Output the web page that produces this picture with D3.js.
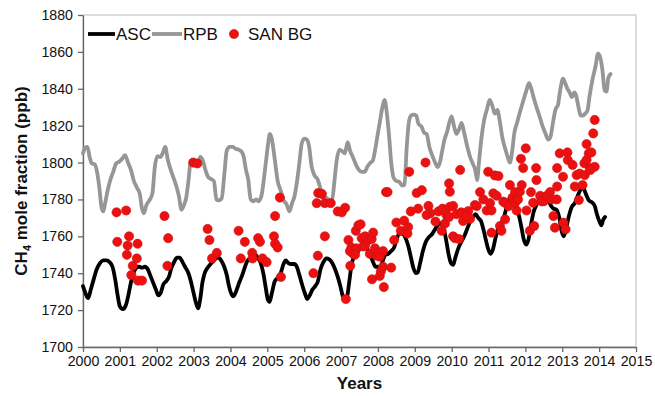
<!DOCTYPE html>
<html>
<head>
<meta charset="utf-8">
<script src="https://cdn.jsdelivr.net/npm/d3@7"></script>
<style>
  html, body { margin: 0; padding: 0; background: #fff; }
  svg { display: block; font-family: "Liberation Sans", Arial, sans-serif; }
</style>
</head>
<body>
<svg id="chart" width="655" height="396"></svg>
<script>
// Axis ranges and tick labels
const xTicks = d3.range(2000, 2016);
const yTicks = d3.range(1700, 1881, 20);

// ASC station record: [decimal year, ppb]
const ascSeries = [
  [2000.0,1733],[2000.07,1729],[2000.14,1726.5],[2000.21,1731],[2000.28,1736],[2000.37,1742],[2000.46,1745.5],[2000.55,1747],[2000.64,1747],[2000.72,1746],[2000.8,1743.5],[2000.87,1737],[2000.94,1728],
  [2001.0,1722],[2001.08,1720.5],[2001.16,1722.5],[2001.23,1728],[2001.3,1735],[2001.37,1740],[2001.45,1743],[2001.52,1743.5],[2001.6,1743],[2001.68,1743.5],[2001.76,1742],[2001.84,1738],[2001.91,1734.5],[2001.98,1731],
  [2002.04,1728],[2002.1,1729],[2002.18,1734],[2002.27,1736],[2002.33,1738],[2002.4,1743],[2002.47,1746],[2002.55,1748.5],[2002.62,1748.5],[2002.7,1746],[2002.78,1743],[2002.86,1740],[2002.92,1736],[2002.98,1731],
  [2003.05,1725],[2003.12,1721],[2003.18,1726],[2003.24,1735],[2003.3,1740],[2003.38,1743],[2003.46,1745],[2003.53,1746.5],[2003.6,1748],[2003.68,1748.5],[2003.76,1746.5],[2003.83,1743.5],[2003.9,1739],[2003.96,1733],
  [2004.02,1729],[2004.08,1727.5],[2004.15,1730],[2004.22,1734],[2004.3,1738],[2004.37,1742],[2004.44,1746],[2004.52,1748],[2004.6,1749.5],[2004.68,1750],[2004.75,1748],[2004.82,1745.5],[2004.89,1740],[2004.95,1733],
  [2005.01,1726],[2005.06,1724.5],[2005.12,1729],[2005.2,1735.5],[2005.28,1737.5],[2005.36,1740],[2005.44,1745],[2005.5,1747],[2005.57,1745.5],[2005.65,1745],[2005.73,1745],[2005.8,1743.5],[2005.87,1739],[2005.94,1734],
  [2006.02,1729],[2006.08,1726],[2006.15,1728],[2006.22,1731],[2006.3,1733],[2006.37,1735.5],[2006.44,1742],[2006.52,1746],[2006.6,1748],[2006.68,1747.5],[2006.76,1745.5],[2006.84,1742],[2006.91,1738],[2006.98,1733],
  [2007.04,1728],[2007.1,1725.5],[2007.16,1727],[2007.22,1735],[2007.28,1744],[2007.34,1748.5],[2007.42,1750.5],[2007.5,1753],[2007.58,1754.5],[2007.65,1755.5],[2007.72,1753],[2007.8,1749.5],[2007.87,1746],[2007.93,1743.5],
  [2008.0,1743.5],[2008.06,1743],[2008.12,1746],[2008.2,1750],[2008.28,1750.5],[2008.36,1752],[2008.44,1754],[2008.5,1758],[2008.58,1761.5],[2008.66,1761.5],[2008.74,1759.5],[2008.82,1755],[2008.89,1749],[2008.96,1743],
  [2009.03,1740],[2009.08,1740.5],[2009.15,1746],[2009.22,1752],[2009.3,1757],[2009.38,1759.5],[2009.46,1761],[2009.54,1763.5],[2009.62,1766],[2009.7,1767],[2009.78,1764.5],[2009.85,1758],[2009.92,1750],[2009.98,1745.5],
  [2010.04,1744.5],[2010.1,1748.5],[2010.18,1753.5],[2010.26,1757],[2010.34,1760],[2010.42,1764],[2010.5,1768],[2010.58,1770.5],[2010.65,1772],[2010.72,1770],[2010.8,1768],[2010.87,1763],[2010.94,1757],
  [2011.0,1752.5],[2011.06,1750.5],[2011.12,1753],[2011.2,1760],[2011.28,1765],[2011.36,1767.5],[2011.44,1772],[2011.52,1778],[2011.6,1781.5],[2011.68,1780.5],[2011.76,1776],[2011.84,1770],[2011.9,1764],[2011.96,1758],
  [2012.02,1755.5],[2012.08,1758],[2012.15,1766],[2012.22,1773],[2012.3,1777],[2012.38,1780],[2012.45,1782],[2012.52,1782.5],[2012.6,1781],[2012.68,1777],[2012.76,1775],[2012.84,1774.5],[2012.92,1770],[2012.98,1763],
  [2013.04,1760],[2013.1,1764],[2013.18,1771],[2013.26,1776],[2013.34,1778],[2013.42,1782],[2013.5,1785.5],[2013.56,1786.5],[2013.64,1783],[2013.72,1779.5],[2013.8,1778.5],[2013.88,1776.5],[2013.94,1772],
  [2014.01,1768],[2014.06,1766],[2014.11,1769],[2014.16,1770.5]
];

// RPB station record: [decimal year, ppb]
const rpbSeries = [
  [2000.0,1805],[2000.06,1808],[2000.12,1808.5],[2000.18,1803],[2000.24,1799.5],[2000.32,1799],[2000.38,1795],[2000.44,1787],[2000.5,1776],[2000.55,1773.5],[2000.6,1778],[2000.67,1785],[2000.74,1790.5],[2000.82,1795],[2000.9,1799.5],[2000.98,1800.5],
  [2001.06,1802],[2001.14,1804],[2001.22,1800],[2001.3,1796],[2001.38,1790],[2001.46,1786.5],[2001.54,1783],[2001.6,1775],[2001.65,1772.5],[2001.72,1777],[2001.8,1779.5],[2001.88,1783],[2001.95,1798],
  [2002.02,1803.5],[2002.1,1803],[2002.16,1805],[2002.23,1808.5],[2002.3,1801.5],[2002.38,1796],[2002.45,1792],[2002.52,1788],[2002.6,1782],[2002.67,1774.5],[2002.74,1777],[2002.8,1781],[2002.86,1790],[2002.92,1800.5],[2002.98,1801.5],
  [2003.06,1800.5],[2003.12,1800],[2003.18,1803],[2003.26,1800.5],[2003.32,1796],[2003.4,1792],[2003.48,1791],[2003.55,1790],[2003.62,1780],[2003.68,1779.5],[2003.76,1780.5],[2003.84,1795],[2003.9,1806.5],[2003.98,1808.5],
  [2004.06,1808.5],[2004.14,1807.5],[2004.22,1807],[2004.3,1806],[2004.36,1803],[2004.42,1796],[2004.48,1791],[2004.55,1780],[2004.62,1779],[2004.7,1780],[2004.76,1779],[2004.84,1782],[2004.9,1790],[2004.96,1800],
  [2005.02,1810],[2005.07,1815.5],[2005.12,1813],[2005.2,1802],[2005.28,1790],[2005.36,1785],[2005.44,1779.5],[2005.52,1777.5],[2005.6,1773.5],[2005.67,1778],[2005.74,1782],[2005.8,1789],[2005.87,1800],[2005.93,1810],
  [2006.0,1813],[2006.07,1812.5],[2006.13,1809],[2006.2,1798],[2006.28,1793],[2006.36,1791],[2006.44,1786],[2006.52,1780],[2006.6,1781],[2006.68,1779.5],[2006.76,1780],[2006.82,1790],[2006.88,1801],[2006.96,1807],
  [2007.04,1806],[2007.1,1805],[2007.18,1811],[2007.25,1806],[2007.32,1803],[2007.4,1799],[2007.48,1796],[2007.56,1795],[2007.64,1795],[2007.72,1798],[2007.8,1800],[2007.86,1801],[2007.92,1806.5],
  [2008.0,1816],[2008.06,1823],[2008.12,1830],[2008.18,1834],[2008.24,1827],[2008.3,1815],[2008.36,1800],[2008.42,1792],[2008.5,1790],[2008.58,1789.5],[2008.66,1787.5],[2008.72,1788],[2008.78,1808],[2008.84,1822],[2008.9,1825.5],[2008.97,1826],
  [2009.04,1825.5],[2009.1,1821],[2009.18,1819.5],[2009.26,1816],[2009.32,1815.5],[2009.4,1808],[2009.47,1804],[2009.55,1800],[2009.62,1797.5],[2009.68,1800],[2009.74,1806],[2009.8,1812],[2009.88,1817],[2009.94,1822],
  [2010.0,1825],[2010.06,1820],[2010.13,1815.5],[2010.2,1818],[2010.27,1821.5],[2010.34,1816],[2010.42,1809],[2010.5,1803],[2010.58,1799],[2010.64,1796],[2010.69,1790.5],[2010.74,1800],[2010.8,1812],[2010.88,1823],[2010.96,1829],
  [2011.03,1834],[2011.1,1831],[2011.17,1826.5],[2011.24,1828.5],[2011.3,1823],[2011.38,1813],[2011.46,1807],[2011.52,1803],[2011.58,1800],[2011.64,1806],[2011.7,1816],[2011.78,1822],[2011.86,1828],[2011.92,1832],[2011.98,1836],
  [2012.04,1840],[2012.1,1843],[2012.16,1840],[2012.24,1834],[2012.32,1829],[2012.4,1824],[2012.46,1820],[2012.54,1816],[2012.62,1812.5],[2012.68,1814],[2012.75,1822],[2012.82,1829],[2012.88,1831],[2012.95,1840],
  [2013.02,1845.5],[2013.08,1843],[2013.14,1840],[2013.2,1838],[2013.26,1835.5],[2013.33,1838],[2013.38,1836],[2013.44,1830],[2013.5,1825.5],[2013.56,1825.5],[2013.62,1826.5],[2013.68,1828],[2013.74,1836],[2013.82,1845],[2013.9,1852],[2013.97,1859],
  [2014.03,1857],[2014.09,1850],[2014.15,1839],[2014.2,1838.5],[2014.25,1846],[2014.31,1848]
];

// SAN background samples: [decimal year, ppb]
const sanBgSamples = [
  [2000.91,1773],[2001.17,1774],[2000.93,1757],[2001.25,1760],[2001.21,1755],[2001.19,1750],[2001.48,1756],[2001.46,1748],[2001.35,1744],[2001.31,1739],[2001.49,1736],[2001.6,1736],
  [2002.21,1771],[2002.31,1759],[2002.29,1744],
  [2002.99,1800],[2003.1,1799.5],
  [2003.38,1764],[2003.43,1758],[2003.5,1748],[2003.63,1751],
  [2004.22,1763],[2004.39,1757],[2004.28,1748],[2004.59,1751],[2004.6,1748],[2004.75,1759],[2004.8,1757],[2004.87,1748],[2004.98,1746],
  [2005.21,1771],[2005.18,1760],[2005.21,1756],[2005.28,1754],[2005.37,1738],[2005.34,1781],
  [2006.25,1740],[2006.37,1749.5],[2006.34,1778],[2006.38,1783.5],[2006.48,1783],[2006.56,1760],[2006.56,1778],[2006.72,1778],[2006.91,1773.5],[2007.02,1773],[2007.11,1775.5],
  [2007.13,1726],[2007.25,1744],[2007.2,1758],[2007.28,1754],[2007.33,1750.5],[2007.24,1752],[2007.4,1763],[2007.47,1766],[2007.53,1766.5],[2007.42,1753.5],[2007.38,1750],
  [2007.56,1759],[2007.6,1754.5],[2007.65,1760],[2007.65,1755],[2007.74,1758],[2007.78,1750.5],[2007.83,1758.5],[2007.87,1762],[2007.92,1753.5],[2007.96,1749.5],
  [2008.01,1751],[2008.14,1752],[2008.05,1749],[2008.14,1743.5],[2008.08,1741],[2008.05,1738.5],[2007.84,1736.7],[2008.16,1732.5],[2008.36,1743],[2008.44,1758],
  [2008.5,1767.5],[2008.62,1763],[2008.71,1768.5],[2008.82,1765],[2008.8,1761.5],[2008.89,1773.5],[2008.22,1784],[2008.26,1784],[2008.85,1795],
  [2009.05,1783.5],[2009.19,1785],[2009.29,1800],[2009.09,1775],[2009.37,1776.5],[2009.42,1772.5],[2009.32,1771.5],[2009.56,1768],[2009.64,1773.5],[2009.75,1775],
  [2009.73,1763],[2009.82,1767],[2009.86,1771.5],[2009.95,1776],[2009.93,1770.5],[2010.04,1760],[2009.93,1788.7],[2009.95,1784.2],
  [2010.04,1776.5],[2010.13,1772],[2010.26,1773],[2010.09,1759],[2010.2,1758.5],[2010.31,1768.3],[2010.45,1773.7],[2010.5,1769.5],[2010.4,1771],[2010.23,1796],
  [2010.63,1777],[2010.68,1776.4],[2010.77,1784],[2010.86,1780],[2010.95,1774],[2011.04,1778],[2011.08,1762],[2010.99,1795],[2011.13,1783.3],[2011.17,1793],[2011.27,1792.7],
  [2011.22,1782],[2011.08,1774],[2011.31,1765.6],[2011.35,1763],[2011.45,1769.2],[2011.4,1778.8],[2011.45,1778.2],[2011.54,1776.4],[2011.58,1787.8],[2011.65,1781],[2011.72,1784],
  [2011.76,1774],[2011.72,1778.2],[2011.8,1780],[2011.85,1784.2],[2011.9,1787.8],[2011.88,1802],[2011.94,1797],[2012.01,1807.7],
  [2012.03,1774],[2012.12,1763],[2012.24,1765.6],[2012.21,1778.2],[2012.15,1784],[2012.29,1797],[2012.3,1790.5],[2012.4,1782],[2012.44,1779],[2012.5,1779],
  [2012.58,1782],[2012.67,1784],[2012.71,1780],[2012.85,1780],[2012.76,1771],[2012.8,1764.7],[2012.86,1787],[2012.86,1797],[2012.93,1805],
  [2013.02,1792.3],[2013.03,1767.4],[2013.09,1763.8],[2013.14,1805.5],[2013.15,1801.4],[2013.28,1798.7],[2013.34,1787],[2013.39,1793.2],[2013.47,1794],[2013.45,1779.7],
  [2013.55,1787.8],[2013.61,1793.2],[2013.6,1799.6],[2013.66,1801.4],[2013.66,1810],[2013.72,1805],[2013.79,1805.5],[2013.75,1797],[2013.88,1797.7],[2013.84,1815.8],[2013.88,1823.1],[2013.76,1796]
];

const legendItems = ["ASC", "RPB", "SAN BG"];

const W = 655, H = 396;
const margin = { top: 15, right: 19, bottom: 49, left: 83 };
const innerW = W - margin.left - margin.right;
const innerH = H - margin.top - margin.bottom;

const svg = d3.select("#chart");
const g = svg.append("g").attr("transform", `translate(${margin.left},${margin.top})`);

const x = d3.scaleLinear().domain([2000, 2015]).range([0, innerW]);
const y = d3.scaleLinear().domain([1700, 1880]).range([innerH, 0]);

// Plot frame: light top/right border
g.append("rect")
  .attr("x", 0).attr("y", 0)
  .attr("width", innerW).attr("height", innerH)
  .attr("fill", "none")
  .attr("stroke", "#c6c6c6")
  .attr("stroke-width", 1.2);

// Axes
const xAxis = g.append("g")
  .attr("transform", `translate(0,${innerH})`)
  .call(d3.axisBottom(x).tickValues(xTicks).tickFormat(d3.format("d")).tickSizeOuter(0).tickSizeInner(5).tickPadding(4));
const yAxis = g.append("g")
  .call(d3.axisLeft(y).tickValues(yTicks).tickFormat(d3.format("d")).tickSizeOuter(0).tickSizeInner(5).tickPadding(5));

[xAxis, yAxis].forEach(a => {
  a.select(".domain").attr("stroke", "#666").attr("stroke-width", 1.3);
  a.selectAll(".tick line").attr("stroke", "#666").attr("stroke-width", 1.3);
  a.selectAll(".tick text")
    .attr("fill", "#111")
    .style("font-size", "14.2px")
    .style("font-family", "'Liberation Sans', Arial, sans-serif");
});

// Series lines
const line = d3.line()
  .x(d => x(d[0]))
  .y(d => y(d[1]))
  .curve(d3.curveMonotoneX);

g.append("path")
  .datum(ascSeries)
  .attr("d", line)
  .attr("fill", "none")
  .attr("stroke", "#000")
  .attr("stroke-width", 3.8)
  .attr("stroke-linejoin", "round")
  .attr("stroke-linecap", "round");

g.append("path")
  .datum(rpbSeries)
  .attr("d", line)
  .attr("fill", "none")
  .attr("stroke", "#969696")
  .attr("stroke-width", 3.8)
  .attr("stroke-linejoin", "round")
  .attr("stroke-linecap", "round");

// Sample markers
g.append("g")
  .selectAll("circle")
  .data(sanBgSamples)
  .join("circle")
  .attr("cx", d => x(d[0]))
  .attr("cy", d => y(d[1]))
  .attr("r", 4.6)
  .attr("fill", "#ee1010")
  .attr("stroke", "#c81010")
  .attr("stroke-width", 0.6);

// Legend
const legend = svg.append("g").attr("transform", "translate(0,34)");
legend.append("line").attr("x1", 88).attr("x2", 115).attr("y1", 0).attr("y2", 0)
  .attr("stroke", "#000").attr("stroke-width", 3.8);
legend.append("text").attr("x", 116).attr("y", 6).text(legendItems[0])
  .style("font-size", "17px").attr("fill", "#111");
legend.append("line").attr("x1", 152).attr("x2", 182).attr("y1", 0).attr("y2", 0)
  .attr("stroke", "#969696").attr("stroke-width", 3.8);
legend.append("text").attr("x", 183).attr("y", 6).text(legendItems[1])
  .style("font-size", "17px").attr("fill", "#111");
legend.append("circle").attr("cx", 234).attr("cy", 0).attr("r", 4.6)
  .attr("fill", "#ee1010").attr("stroke", "#c81010").attr("stroke-width", 0.6);
legend.append("text").attr("x", 248).attr("y", 6).text(legendItems[2])
  .style("font-size", "17px").attr("fill", "#111");

// Axis titles
svg.append("text")
  .attr("x", margin.left + innerW / 2)
  .attr("y", 389)
  .attr("text-anchor", "middle")
  .style("font-size", "17px")
  .style("font-weight", "bold")
  .attr("fill", "#111")
  .text("Years");

const yTitle = svg.append("text")
  .attr("transform", `translate(27,${margin.top + innerH / 2}) rotate(-90)`)
  .attr("text-anchor", "middle")
  .style("font-size", "17px")
  .style("font-weight", "bold")
  .attr("fill", "#111");
yTitle.append("tspan").text("CH");
yTitle.append("tspan").text("4").style("font-size", "11px").attr("dy", 4);
yTitle.append("tspan").text(" mole fraction (ppb)").attr("dy", -4);
</script>
</body>
</html>
